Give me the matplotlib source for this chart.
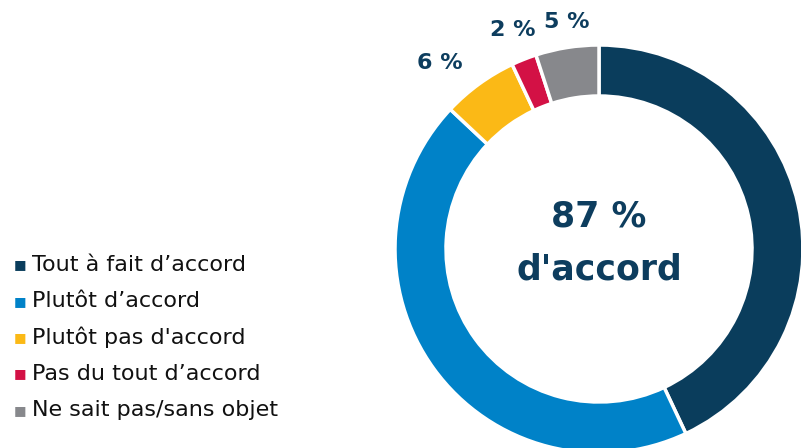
import numpy as np
import matplotlib.pyplot as plt

# Data
categories = [
    "Tout à fait d\u2019accord",
    "Plutôt d\u2019accord",
    "Plutôt pas d'accord",
    "Pas du tout d\u2019accord",
    "Ne sait pas/sans objet",
]
values = [43, 44, 6, 2, 5]
colors = ["#0a3d5c", "#0082c8", "#fbb916", "#d31145", "#87888c"]
shown_labels = ["", "", "6 %", "2 %", "5 %"]
center_lines = ["87 %", "d'accord"]

navy = "#0d3d5e"

# label placement (distance from centre in radii, angle nudge in degrees)
label_dist = [1.2, 1.2, 1.2, 1.155, 1.125]
label_nudge = [0, 0, 4.6, 0, -1.0]

fig = plt.figure(figsize=(8.01, 4.48), dpi=100)

# donut axes: centre at (599, 249) px from top, outer radius 204 px
W, H = 801, 448
cx, cy, R = 599, 249, 204
ax = fig.add_axes([(cx - R) / W, (H - cy - R) / H, 2 * R / W, 2 * R / H])
wedges, _ = ax.pie(
    values,
    colors=colors,
    startangle=90,
    counterclock=False,
    radius=1.0,
    wedgeprops=dict(width=0.25, edgecolor="white", linewidth=2.5),
)
for w, lab, d, nud in zip(wedges, shown_labels, label_dist, label_nudge):
    if not lab:
        continue
    ang = np.deg2rad((w.theta1 + w.theta2) / 2 + nud)
    ax.text(d * np.cos(ang), d * np.sin(ang), lab, ha="center", va="center",
            fontsize=16, fontweight="bold", color=navy)
ax.set_xlim(-1, 1)
ax.set_ylim(-1, 1)
ax.set_aspect("equal")
ax.axis("off")

ax.text(0, 0.16, center_lines[0], ha="center", va="center",
        fontsize=25, fontweight="bold", color=navy)
ax.text(0, -0.10, center_lines[1], ha="center", va="center",
        fontsize=25, fontweight="bold", color=navy)

# legend on the left
for i, (lab, col) in enumerate(zip(categories, colors)):
    y = 1 - (265 + i * 36.3) / H
    fig.text(20 / W, y, "\u25A0", color=col, fontsize=9.5, ha="center", va="center")
    fig.text(32 / W, y, lab, color="#111111", fontsize=16, ha="left", va="center")

fig.savefig("out.png", dpi=100)
